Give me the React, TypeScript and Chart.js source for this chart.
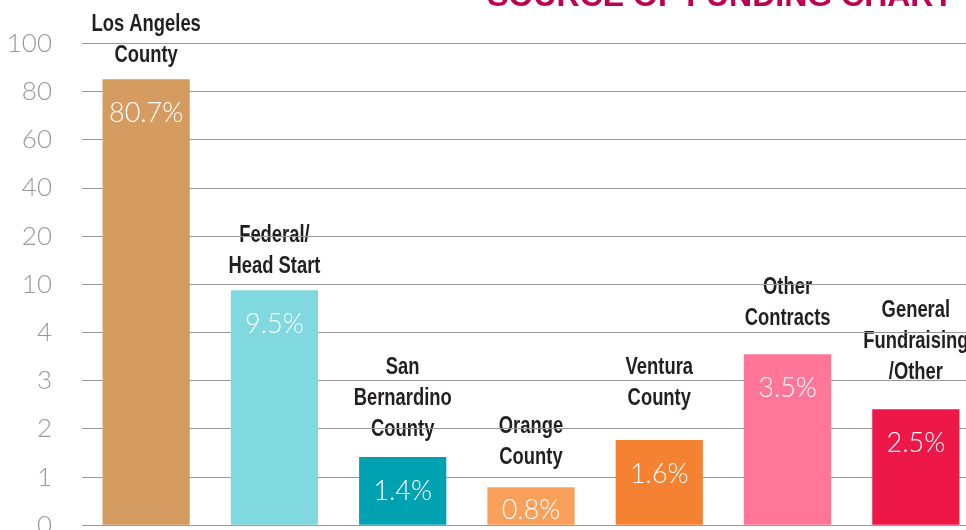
import React, { useEffect, useRef } from "react";
import { Chart, registerables } from "chart.js";

Chart.register(...registerables);

// Category names (multi-line as in the picture)
const categories: string[][] = [
  ["Los Angeles", "County"],
  ["Federal/", "Head Start"],
  ["San", "Bernardino", "County"],
  ["Orange", "County"],
  ["Ventura", "County"],
  ["Other", "Contracts"],
  ["General", "Fundraising", "/Other"],
];

// Bar heights in axis-step units (the axis has equal spacing for unequal values)
const barHeights: number[] = [9.26, 4.88, 1.42, 0.79, 1.77, 3.55, 2.41];

// Printed percentages
const valueLabels: string[] = ["80.7%", "9.5%", "1.4%", "0.8%", "1.6%", "3.5%", "2.5%"];

// Tick labels for each axis step
const yTickLabels: string[] = ["0", "1", "2", "3", "4", "10", "20", "40", "60", "80", "100"];

const barColors: string[] = [
  "#D49C60",
  "#80D9DF",
  "#00A1B0",
  "#F9A05A",
  "#F58233",
  "#FF7698",
  "#EE1848",
];

// Layout: space (px) between each category label's last line and its bar top
const labelGaps: number[] = [23, 24, 27, 30, 41, 36, 37];

const titleText = "SOURCE OF FUNDING CHART";

const labelFont = "bold 23px 'Liberation Sans', Arial, sans-serif";
const valueFont = "300 27px Lato, 'Open Sans', sans-serif";

const decorPlugin = {
  id: "decor",
  beforeDraw(chart: any) {
    const ctx = chart.ctx;
    const meta = chart.getDatasetMeta(0);
    ctx.save();
    ctx.font = labelFont;
    ctx.fillStyle = "#231F20";
    ctx.textAlign = "center";
    ctx.textBaseline = "middle";
    const lineH = 31;
    const squeeze = 0.8;
    meta.data.forEach((bar: any, i: number) => {
      const lines = categories[i];
      const n = lines.length;
      const gap = labelGaps[i];
      lines.forEach((ln, j) => {
        ctx.save();
        ctx.translate(bar.x, bar.y - gap - (n - 1 - j) * lineH);
        ctx.scale(squeeze, 1);
        ctx.fillText(ln, 0, 0);
        ctx.restore();
      });
    });
    ctx.restore();
  },
  afterDatasetsDraw(chart: any) {
    const ctx = chart.ctx;
    const meta = chart.getDatasetMeta(0);
    ctx.save();
    ctx.font = valueFont;
    ctx.fillStyle = "#FFFFFF";
    ctx.textAlign = "center";
    ctx.textBaseline = "middle";
    meta.data.forEach((bar: any, i: number) => {
      const y = Math.min(bar.y + 34, bar.base - 15);
      ctx.fillText(valueLabels[i], bar.x, y);
    });
    ctx.restore();
  },
  afterDraw(chart: any) {
    const ctx = chart.ctx;
    ctx.save();
    ctx.font = "bold 32px 'Liberation Sans', Arial, sans-serif";
    ctx.fillStyle = "#BE0050";
    ctx.textAlign = "right";
    ctx.textBaseline = "alphabetic";
    ctx.fillText(titleText, 953, 5.5);
    ctx.restore();
  },
};

export default function App() {
  const canvasRef = useRef<HTMLCanvasElement | null>(null);

  useEffect(() => {
    if (!canvasRef.current) return;
    const chart = new Chart(canvasRef.current, {
      type: "bar",
      data: {
        labels: categories.map((c) => c.join(" ")),
        datasets: [
          {
            data: barHeights,
            backgroundColor: barColors,
            borderWidth: 0,
            barPercentage: 0.68,
            categoryPercentage: 1,
          },
        ],
      },
      options: {
        responsive: false,
        animation: false,
        layout: { padding: { top: 43.5, right: 5, bottom: 34.7, left: 0 } },
        plugins: {
          legend: { display: false },
          tooltip: { enabled: false },
          title: { display: false },
        },
        scales: {
          x: { display: false },
          y: {
            min: 0,
            max: 10,
            afterFit: (scale: any) => {
              scale.width = 82;
            },
            border: { display: false },
            grid: {
              color: "#9A9A9A",
              lineWidth: 1,
              drawTicks: true,
              tickLength: 30,
              tickColor: "rgba(0,0,0,0)",
            },
            ticks: {
              stepSize: 1,
              padding: 0,
              color: "#97989C",
              font: { family: "Lato, 'Open Sans', sans-serif", size: 26, weight: "300" as any },
              callback: (v: any) => yTickLabels[Number(v)] ?? "",
            },
          },
        },
      },
      plugins: [decorPlugin],
    });
    return () => chart.destroy();
  }, []);

  return (
    <div
      style={{
        position: "fixed",
        left: 0,
        top: 0,
        width: 966,
        height: 530,
        overflow: "hidden",
        background: "#fff",
      }}
    >
      <canvas ref={canvasRef} width={985} height={560} style={{ display: "block" }} />
    </div>
  );
}
